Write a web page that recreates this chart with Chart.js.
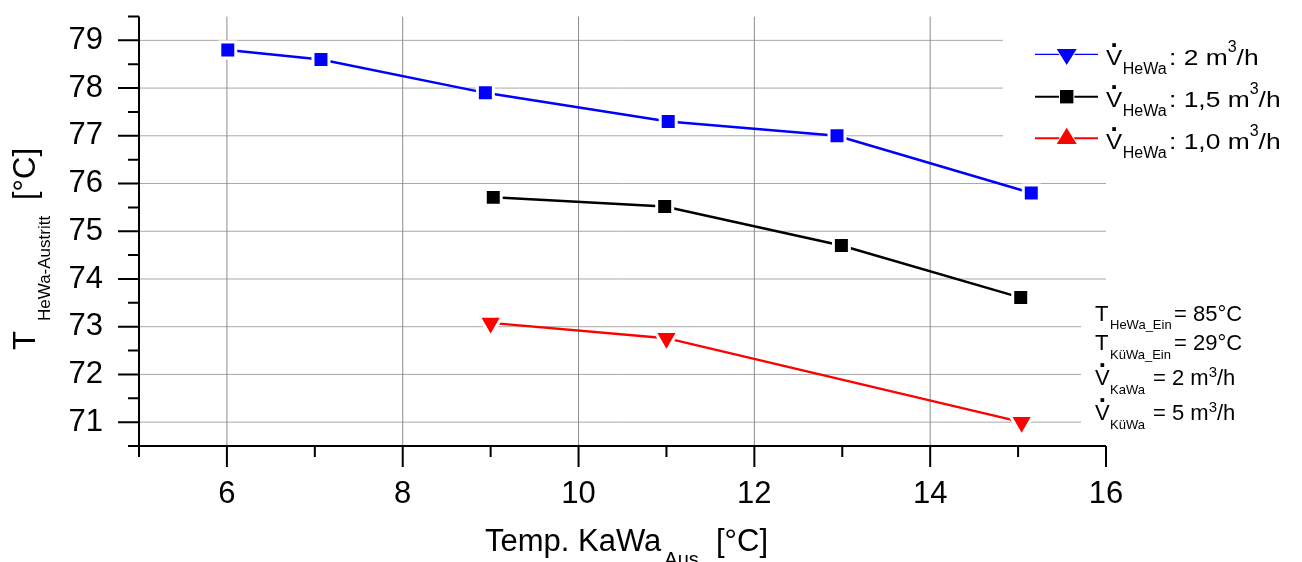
<!DOCTYPE html>
<html>
<head>
<meta charset="utf-8">
<script src="https://cdn.jsdelivr.net/npm/chart.js@4"></script>
<style>
html, body { margin: 0; padding: 0; background: #fff; }
#wrap { width: 1302px; height: 562px; }
</style>
</head>
<body>
<div id="wrap"><canvas id="c" width="1302" height="562"></canvas></div>
<script>
// values
var blueX = [6.01, 7.07, 8.94, 11.02, 12.94, 15.15];
var blueY = [78.8, 78.6, 77.9, 77.3, 77.0, 75.8];
var blackX = [9.03, 10.98, 12.99, 15.03];
var blackY = [75.71, 75.52, 74.70, 73.61];
var redX = [9.0, 11.0, 15.04];
var redY = [73.08, 72.76, 71.0];

var xTicks = [6, 8, 10, 12, 14, 16];
var xMinor = [5, 7, 9, 11, 13, 15];
var xGrid = [6, 8, 10, 12, 14];
var yTicks = [71, 72, 73, 74, 75, 76, 77, 78, 79];
var yMinor = [70.5, 71.5, 72.5, 73.5, 74.5, 75.5, 76.5, 77.5, 78.5, 79.5];

var legendValues = ['2', '1,5', '1,0'];
var legendColors = ['#0000ff', '#000000', '#ff0000'];
var legendMarkers = ['down', 'square', 'up'];

var FONT = '"Liberation Sans", Arial, sans-serif';

function pts(xs, ys) {
  return xs.map(function (x, i) { return { x: x, y: ys[i] }; });
}

// draw a piece of text, returns the x where the next piece starts
function txt(ctx, s, x, y, size, sx) {
  sx = sx || 1;
  ctx.save();
  ctx.font = size + 'px ' + FONT;
  ctx.textAlign = 'left';
  ctx.textBaseline = 'alphabetic';
  ctx.translate(x, y);
  ctx.scale(sx, 1);
  ctx.fillText(s, 0, 0);
  var w = ctx.measureText(s).width * sx;
  ctx.restore();
  return x + w;
}

// V with a dot on top (volume flow)
function vdot(ctx, x, b, size, sx) {
  var end = txt(ctx, 'V', x, b, size, sx);
  ctx.save();
  ctx.font = 'bold ' + (size + 4) + 'px ' + FONT;
  ctx.textAlign = 'center';
  ctx.textBaseline = 'alphabetic';
  ctx.fillText('.', (x + end) / 2, b - 18);
  ctx.restore();
  return end;
}

var decor = {
  id: 'decor',
  beforeDatasetsDraw: function (chart) {
    var ctx = chart.ctx, a = chart.chartArea;
    var xs = chart.scales.x, ys = chart.scales.y;
    ctx.save();
    // grid
    ctx.lineWidth = 1;
    ctx.strokeStyle = '#a8a8a8';
    yTicks.forEach(function (v) {
      var p = ys.getPixelForValue(v);
      ctx.beginPath(); ctx.moveTo(a.left, p); ctx.lineTo(a.right, p); ctx.stroke();
    });
    ctx.strokeStyle = '#8c8c8c';
    xGrid.forEach(function (v) {
      var p = xs.getPixelForValue(v);
      ctx.beginPath(); ctx.moveTo(p, a.top); ctx.lineTo(p, a.bottom); ctx.stroke();
    });
    // white boxes behind legend and the conditions text
    ctx.fillStyle = '#fff';
    ctx.fillRect(1003, 26, 299, 140);
    ctx.fillRect(1081, 297, 221, 146);
    // axes
    ctx.strokeStyle = '#000';
    ctx.lineWidth = 2;
    ctx.beginPath();
    ctx.moveTo(a.left, a.top); ctx.lineTo(a.left, a.bottom + 11);
    ctx.moveTo(a.left - 11, a.bottom); ctx.lineTo(a.right, a.bottom);
    yTicks.forEach(function (v) {
      var p = ys.getPixelForValue(v);
      ctx.moveTo(a.left - 21, p); ctx.lineTo(a.left, p);
    });
    yMinor.forEach(function (v) {
      var p = ys.getPixelForValue(v);
      ctx.moveTo(a.left - 11, p); ctx.lineTo(a.left, p);
    });
    xTicks.forEach(function (v) {
      var p = xs.getPixelForValue(v);
      ctx.moveTo(p, a.bottom); ctx.lineTo(p, a.bottom + 21);
    });
    xMinor.forEach(function (v) {
      var p = xs.getPixelForValue(v);
      ctx.moveTo(p, a.bottom); ctx.lineTo(p, a.bottom + 11);
    });
    ctx.stroke();
    ctx.restore();
  },
  afterDatasetsDraw: function (chart) {
    var ctx = chart.ctx;
    ctx.save();
    ctx.fillStyle = '#000';

    // axis titles
    var e = txt(ctx, 'Temp. KaWa', 485, 551, 31);
    txt(ctx, 'Aus', e + 3, 566, 20);
    txt(ctx, '[\u00B0C]', 716, 551, 31);

    ctx.save();
    ctx.translate(35, 350);
    ctx.rotate(-Math.PI / 2);
    txt(ctx, 'T', 0, 0, 31);
    txt(ctx, 'HeWa-Austritt', 29, 15, 17);
    txt(ctx, '[\u00B0C]', 150, 0, 31);
    ctx.restore();

    // legend
    var rowY = [54.3, 96.7, 138.3];
    for (var i = 0; i < 3; i++) {
      var y = rowY[i], cx = 1066.7, col = legendColors[i];
      ctx.strokeStyle = col;
      ctx.lineWidth = i === 0 ? 1.3 : 2;
      ctx.beginPath(); ctx.moveTo(1035, y); ctx.lineTo(1098, y); ctx.stroke();
      ctx.fillStyle = col;
      ctx.strokeStyle = '#fff';
      ctx.lineWidth = 2;
      ctx.beginPath();
      if (legendMarkers[i] === 'down') {
        ctx.moveTo(cx - 10, y - 5.3); ctx.lineTo(cx + 10, y - 5.3); ctx.lineTo(cx, y + 10.7);
      } else if (legendMarkers[i] === 'up') {
        ctx.moveTo(cx - 10, y + 5.7); ctx.lineTo(cx + 10, y + 5.7); ctx.lineTo(cx, y - 10.6);
      } else {
        ctx.rect(cx - 6.7, y - 6.7, 13.4, 13.4);
      }
      ctx.closePath();
      ctx.stroke();
      ctx.fill();

      ctx.fillStyle = '#000';
      var b = y + 10.2;
      vdot(ctx, 1106, b, 22, 1.1);
      txt(ctx, 'HeWa', 1122.7, b + 9.5, 16);
      var x2 = txt(ctx, ': ' + legendValues[i] + ' m', 1169, b, 22, 1.2);
      x2 = txt(ctx, '3', x2, b - 13, 16);
      txt(ctx, '/h', x2, b, 22, 1.2);
    }

    // operating conditions
    ctx.fillStyle = '#000';
    txt(ctx, 'T', 1095, 321, 22);
    txt(ctx, 'HeWa_Ein', 1110, 329, 13);
    txt(ctx, '= 85\u00B0C', 1174, 321, 22);

    txt(ctx, 'T', 1095, 350, 22);
    txt(ctx, 'K\u00FCWa_Ein', 1110, 359, 13);
    txt(ctx, '= 29\u00B0C', 1174, 350, 22);

    vdot(ctx, 1095, 385, 22);
    txt(ctx, 'KaWa', 1110, 394, 13);
    var x3 = txt(ctx, '= 2 m', 1153, 385, 22);
    x3 = txt(ctx, '3', x3, 376.5, 15);
    txt(ctx, '/h', x3, 385, 22);

    vdot(ctx, 1095, 420, 22);
    txt(ctx, 'K\u00FCWa', 1110, 429, 13);
    var x4 = txt(ctx, '= 5 m', 1153, 420, 22);
    x4 = txt(ctx, '3', x4, 411.5, 15);
    txt(ctx, '/h', x4, 420, 22);

    ctx.restore();
  }
};

var ctx = document.getElementById('c').getContext('2d');
var chart = new Chart(ctx, {
  type: 'scatter',
  data: {
    datasets: [{
      label: '2 m3/h',
      data: pts(blueX, blueY),
      showLine: true,
      borderColor: '#0000ff',
      backgroundColor: '#0000ff',
      borderWidth: 2.5,
      pointStyle: 'rect',
      pointRadius: 11.3,
      pointBorderColor: '#ffffff',
      pointBorderWidth: 3
    }, {
      label: '1,5 m3/h',
      data: pts(blackX, blackY),
      showLine: true,
      borderColor: '#000000',
      backgroundColor: '#000000',
      borderWidth: 2.5,
      pointStyle: 'rect',
      pointRadius: 11.3,
      pointBorderColor: '#ffffff',
      pointBorderWidth: 3
    }, {
      label: '1,0 m3/h',
      data: pts(redX, redY),
      showLine: true,
      borderColor: '#ff0000',
      backgroundColor: '#ff0000',
      borderWidth: 2.5,
      pointStyle: 'triangle',
      pointRotation: 180,
      pointRadius: 13.5,
      pointBorderColor: '#ffffff',
      pointBorderWidth: 3
    }]
  },
  options: {
    responsive: false,
    devicePixelRatio: 1,
    animation: false,
    events: [],
    layout: { padding: { top: 14, right: 196, left: 0, bottom: 0 } },
    plugins: { legend: { display: false }, tooltip: { enabled: false } },
    scales: {
      x: {
        type: 'linear',
        min: 5,
        max: 16,
        grid: { display: false, drawTicks: false },
        border: { display: false },
        ticks: { color: '#000', padding: 30, font: { family: FONT, size: 31 } },
        afterBuildTicks: function (s) { s.ticks = xTicks.map(function (v) { return { value: v }; }); },
        afterFit: function (s) { s.height = 116; s.paddingLeft = 0; s.paddingRight = 0; }
      },
      y: {
        type: 'linear',
        min: 70.5,
        max: 79.5,
        grid: { display: false, drawTicks: false },
        border: { display: false },
        ticks: { color: '#000', padding: 36, font: { family: FONT, size: 31 } },
        afterBuildTicks: function (s) { s.ticks = yTicks.map(function (v) { return { value: v }; }); },
        afterFit: function (s) { s.width = 139; s.paddingTop = 0; s.paddingBottom = 0; }
      }
    }
  },
  plugins: [decor]
});
</script>
</body>
</html>
